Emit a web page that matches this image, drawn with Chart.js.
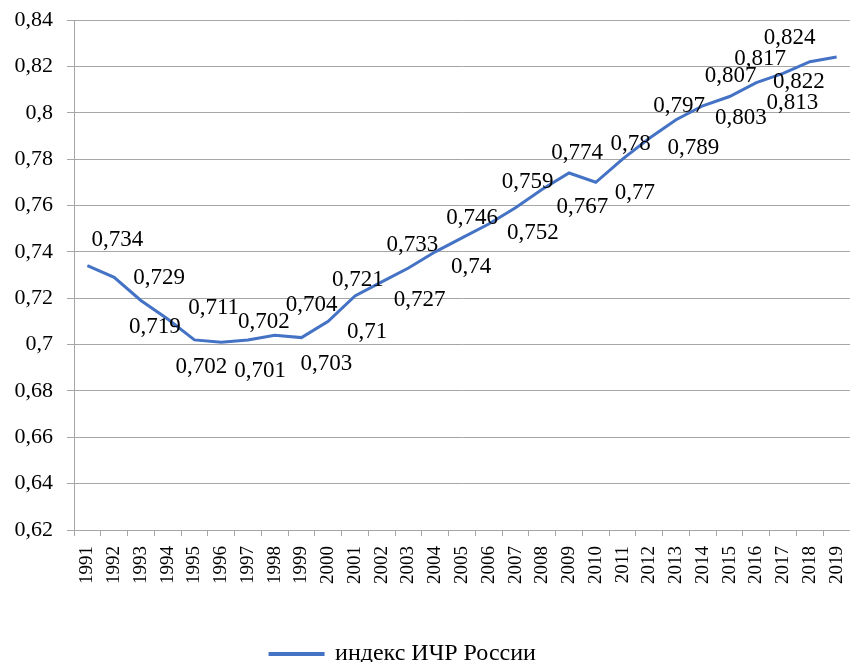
<!DOCTYPE html>
<html>
<head>
<meta charset="utf-8">
<script src="https://cdn.jsdelivr.net/npm/chart.js@4/dist/chart.umd.min.js"></script>
<style>
  html, body { margin: 0; padding: 0; background: #fff; }
  #wrap { width: 850px; height: 662px; }
</style>
</head>
<body>
<div id="wrap"><canvas id="hdiChart"></canvas></div>
<script>
const years = [
  "1991", "1992", "1993", "1994", "1995", "1996", "1997", "1998", "1999", "2000",
  "2001", "2002", "2003", "2004", "2005", "2006", "2007", "2008", "2009", "2010",
  "2011", "2012", "2013", "2014", "2015", "2016", "2017", "2018", "2019",
];
const hdiValues = [
  0.734, 0.729, 0.719, 0.711, 0.702, 0.701, 0.702, 0.704, 0.703, 0.71,
  0.721, 0.727, 0.733, 0.74, 0.746, 0.752, 0.759, 0.767, 0.774, 0.77,
  0.78, 0.789, 0.797, 0.803, 0.807, 0.813, 0.817, 0.822, 0.824,
];
const seriesName = "индекс ИЧР России";
const yMin = 0.62;
const yMax = 0.84;
const yStep = 0.02;

// where each value label sits relative to its point (dx, dy in px)
const labelOffsets = [
  [30, -26], [45, 1], [14, 26], [46, -11], [7, 27], [39, 29], [16, -18], [37, -30], [25, 26], [39, 11],
  [3, -16], [38, 18], [4, -23], [36, 15], [10, -20], [44, 9], [12, -26], [40, 18], [8, -20], [39, 11],
  [8, -15], [44, 10], [3, -14], [38, 12], [1, -21], [36, 20], [-23, -14], [-11, 20], [-47, -19],
];

const serif = "'Liberation Serif', 'Times New Roman', serif";
const gridGray = "#a6a6a6";

const valueLabels = {
  id: "valueLabels",
  afterDatasetsDraw(chart) {
    const ctx = chart.ctx;
    const meta = chart.getDatasetMeta(0);
    ctx.save();
    ctx.font = "23px " + serif;
    ctx.fillStyle = "#000";
    ctx.textAlign = "center";
    ctx.textBaseline = "middle";
    meta.data.forEach((pt, i) => {
      const off = labelOffsets[i] || [0, -20];
      const txt = String(hdiValues[i]).replace(".", ",");
      ctx.fillText(txt, pt.x + off[0], pt.y + off[1]);
    });
    ctx.restore();
  },
};

// legend in the original sits a bit left of centre and right at the bottom
const legendShift = {
  id: "legendShift",
  afterLayout(chart) {
    const lg = chart.legend;
    if (lg) {
      lg.left -= 22;
      lg.right -= 22;
      lg.top += 14;
      lg.bottom += 14;
    }
  },
};

function fmtComma(v) {
  return String(Math.round(v * 100) / 100).replace(".", ",");
}

new Chart(document.getElementById("hdiChart"), {
  type: "line",
  data: {
    labels: years,
    datasets: [
      {
        label: seriesName,
        data: hdiValues,
        borderColor: "#4472C4",
        backgroundColor: "#4472C4",
        borderWidth: 3,
        pointRadius: 0,
        tension: 0,
      },
    ],
  },
  options: {
    responsive: true,
    maintainAspectRatio: false,
    animation: false,
    layout: { padding: { top: 20, right: 0, left: 0, bottom: 0 } },
    scales: {
      x: {
        offset: true,
        grid: {
          offset: true,
          drawOnChartArea: false,
          color: gridGray,
          tickLength: 6,
        },
        border: { color: gridGray },
        ticks: {
          autoSkip: false,
          maxRotation: 90,
          minRotation: 90,
          padding: 10,
          color: "#000",
          font: { family: serif, size: 19 },
        },
        afterFit(scale) {
          scale.height = 96;
          scale.paddingLeft = 0;
          scale.paddingRight = 0;
        },
      },
      y: {
        min: yMin,
        max: yMax,
        grid: { color: gridGray, tickLength: 7 },
        border: { color: gridGray },
        ticks: {
          stepSize: yStep,
          padding: 14,
          color: "#000",
          font: { family: serif, size: 22 },
          callback: (v) => fmtComma(v),
        },
        afterFit(scale) {
          scale.width = 74;
          scale.paddingTop = 0;
          scale.paddingBottom = 0;
        },
      },
    },
    plugins: {
      legend: {
        position: "bottom",
        labels: {
          boxWidth: 53,
          boxHeight: 1,
          color: "#000",
          font: { family: serif, size: 24 },
          padding: 2,
        },
      },
      tooltip: { enabled: false },
    },
  },
  plugins: [valueLabels, legendShift],
});
</script>
</body>
</html>
